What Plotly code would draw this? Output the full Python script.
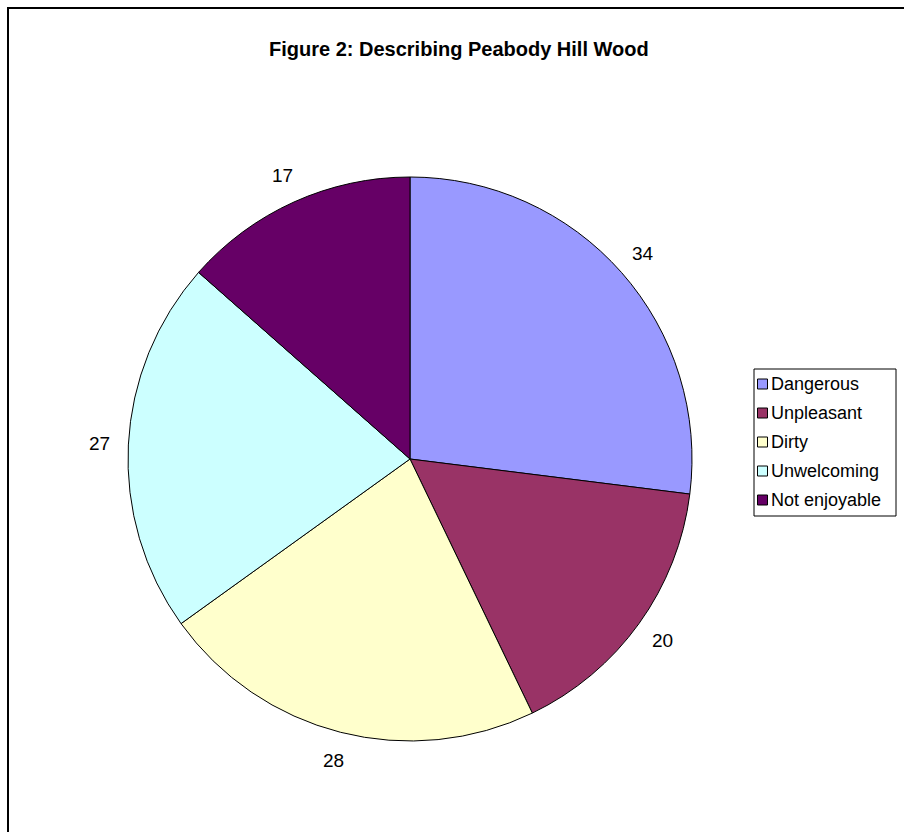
import math
import plotly.graph_objects as go

# Survey responses describing the wood
categories = ["Dangerous", "Unpleasant", "Dirty", "Unwelcoming", "Not enjoyable"]
counts = [34, 20, 28, 27, 17]
slice_colors = ["#9999FF", "#993366", "#FFFFCC", "#CCFFFF", "#660066"]
title_text = "Figure 2: Describing Peabody Hill Wood"

W, H = 904, 832
FONT = "Liberation Sans, Arial, sans-serif"

# Pie geometry in pixels
cx, cy, r = 410, 459, 282
label_r = 311


def px_x(x):
    return x / W


def px_y(y):
    return 1 - y / H


fig = go.Figure()
fig.add_trace(go.Pie(
    labels=categories,
    values=counts,
    marker=dict(colors=slice_colors, line=dict(color="#000000", width=1)),
    sort=False,
    direction="clockwise",
    rotation=0,
    textinfo="none",
    hoverinfo="label+value",
    showlegend=False,
    domain=dict(x=[px_x(cx - r), px_x(cx + r)],
                y=[px_y(cy + r), px_y(cy - r)]),
))

# Value labels placed just outside each slice, at the slice's mid angle
total = sum(counts)
cum = 0
annotations = []
for v in counts:
    theta = (cum + v / 2) / total * 2 * math.pi
    cum += v
    annotations.append(dict(
        x=px_x(cx + label_r * math.sin(theta)),
        y=px_y(cy - label_r * math.cos(theta)),
        xref="paper", yref="paper",
        text=str(v), showarrow=False,
        xanchor="center", yanchor="middle",
        font=dict(family=FONT, size=19, color="#000000"),
    ))

annotations.append(dict(
    x=px_x(459), y=px_y(49), xref="paper", yref="paper",
    text="<b>" + title_text + "</b>", showarrow=False,
    xanchor="center", yanchor="middle",
    font=dict(family=FONT, size=20, color="#000000"),
))

# Outer chart border
shapes = [dict(
    type="rect", xref="paper", yref="paper",
    x0=px_x(8), y0=-0.05, x1=1.05, y1=px_y(8),
    line=dict(color="#000000", width=2),
    fillcolor="rgba(0,0,0,0)", layer="above",
)]

# Legend: framed box with a colour swatch and name for each category
leg_left, leg_top, leg_right, leg_bottom = 754, 369, 896, 516
row0, row_step, sw = 384, 29, 10
shapes.append(dict(
    type="rect", xref="paper", yref="paper",
    x0=px_x(leg_left), x1=px_x(leg_right),
    y0=px_y(leg_bottom), y1=px_y(leg_top),
    line=dict(color="#000000", width=1), fillcolor="#FFFFFF", layer="above",
))
for i, (name, col) in enumerate(zip(categories, slice_colors)):
    yc = row0 + row_step * i
    shapes.append(dict(
        type="rect", xref="paper", yref="paper",
        x0=px_x(757.5), x1=px_x(757.5 + sw),
        y0=px_y(yc + sw / 2), y1=px_y(yc - sw / 2),
        line=dict(color="#000000", width=1), fillcolor=col, layer="above",
    ))
    annotations.append(dict(
        x=px_x(769), y=px_y(yc), xref="paper", yref="paper",
        text=name, showarrow=False,
        xanchor="left", yanchor="middle",
        font=dict(family=FONT, size=18, color="#000000"),
    ))

fig.update_layout(
    width=W, height=H,
    margin=dict(l=0, r=0, t=0, b=0),
    paper_bgcolor="#FFFFFF",
    plot_bgcolor="#FFFFFF",
    annotations=annotations,
    shapes=shapes,
    showlegend=False,
)

fig.write_html("out.html")
